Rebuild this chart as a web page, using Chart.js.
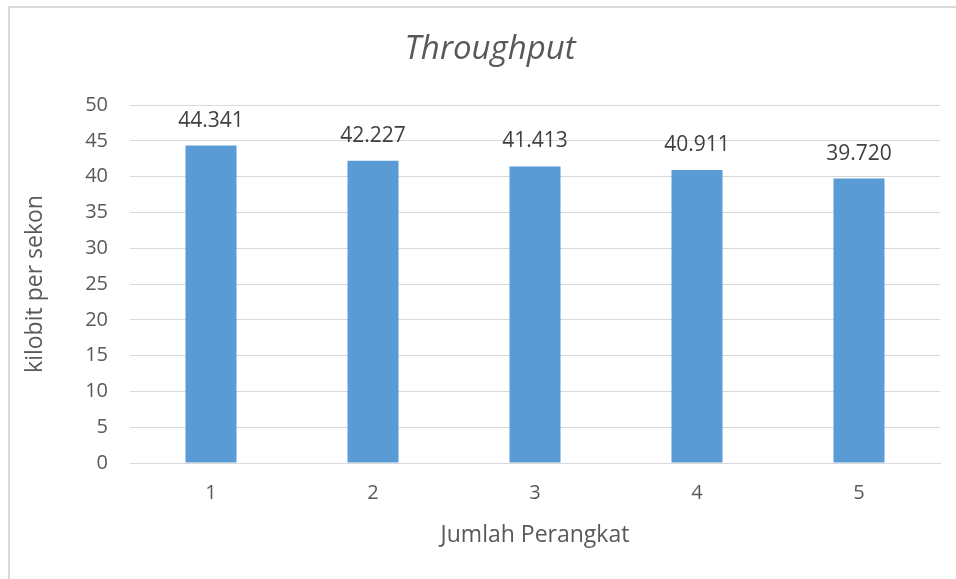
<!DOCTYPE html>
<html lang="en">
<head>
    <meta charset="UTF-8">
    <title>Throughput</title>
    <style>
        body { margin: 0; background: #fff; font-family: 'Open Sans', sans-serif; }
        #wrap { position: relative; width: 956px; height: 579px; overflow: hidden; }
        #frame { position: absolute; left: 8px; top: 6px; width: 1000px; height: 1000px;
                 border-left: 2px solid #d9d9d9; border-top: 2px solid #d9d9d9; }
        canvas { position: absolute; left: 0; top: 0; }
    </style>
</head>
<body>
<div id="wrap">
    <div id="frame"></div>
    <canvas id="chart" width="956" height="579"></canvas>
</div>

<script src="https://cdn.jsdelivr.net/npm/chart.js@4.4.0/dist/chart.umd.min.js"></script>
<script>
    const categories = ['1', '2', '3', '4', '5'];
    const throughput = [44.341, 42.227, 41.413, 40.911, 39.720];
    const chartTitle = 'Throughput';
    const xTitle = 'Jumlah Perangkat';
    const yTitle = 'kilobit per sekon';

    const textColor = '#595959';
    const gridColor = '#d9d9d9';

    // title drawn by hand so it can sit where Excel put it
    const titlePlugin = {
        id: 'excelTitle',
        afterDraw(chart) {
            const ctx = chart.ctx;
            ctx.save();
            ctx.font = 'italic 33px "Open Sans"';
            ctx.fillStyle = textColor;
            ctx.textAlign = 'center';
            ctx.textBaseline = 'middle';
            ctx.fillText(chartTitle, 490, 50);
            ctx.restore();
        }
    };

    // value labels above each bar
    const valueLabels = {
        id: 'valueLabels',
        afterDatasetsDraw(chart) {
            const ctx = chart.ctx;
            const meta = chart.getDatasetMeta(0);
            ctx.save();
            ctx.font = '21px "Open Sans"';
            ctx.fillStyle = '#404040';
            ctx.textAlign = 'center';
            ctx.textBaseline = 'middle';
            meta.data.forEach((bar, i) => {
                ctx.fillText(throughput[i].toFixed(3), bar.x, bar.y - 25);
            });
            ctx.restore();
        }
    };

    new Chart(document.getElementById('chart'), {
        type: 'bar',
        data: {
            labels: categories,
            datasets: [{
                data: throughput,
                backgroundColor: '#5b9bd5',
                barPercentage: 0.63,
                categoryPercentage: 0.5
            }]
        },
        options: {
            responsive: false,
            animation: false,
            layout: { padding: { top: 105, right: 16, bottom: 0, left: 0 } },
            plugins: {
                legend: { display: false },
                tooltip: { enabled: false }
            },
            scales: {
                x: {
                    grid: { display: false, drawTicks: false },
                    border: { color: gridColor, width: 1 },
                    ticks: { color: textColor, font: { size: 20, family: 'Open Sans' }, padding: 18 },
                    title: { display: true, text: xTitle, color: textColor,
                             font: { size: 23, family: 'Open Sans' }, padding: { top: 0, bottom: 30 } },
                    afterFit(scale) { scale.height = 116; }
                },
                y: {
                    min: 0, max: 50,
                    ticks: { stepSize: 5, color: textColor, font: { size: 20, family: 'Open Sans' }, padding: 22 },
                    grid: { color: gridColor, lineWidth: 1, drawTicks: false },
                    border: { display: false },
                    title: { display: true, text: yTitle, color: textColor,
                             font: { size: 23, family: 'Open Sans' }, padding: { top: 22, bottom: 0 } },
                    afterFit(scale) { scale.width = 130; }
                }
            }
        },
        plugins: [titlePlugin, valueLabels]
    });
</script>
</body>
</html>
